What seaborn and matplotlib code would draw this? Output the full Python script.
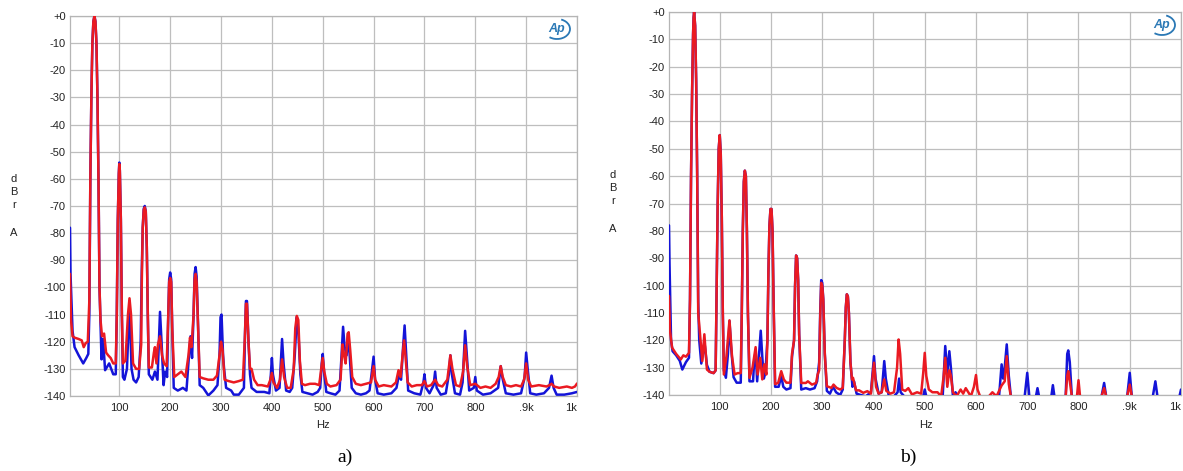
import numpy as np
import pandas as pd
import matplotlib
matplotlib.use("Agg")
import matplotlib.pyplot as plt
from matplotlib.patches import Arc
from matplotlib.ticker import MultipleLocator
import seaborn as sns

# ---------------- data ----------------
a_blue_f = [3, 4, 8, 12, 20, 29, 35, 39, 41, 43, 45, 47, 49, 51, 53, 55, 57, 59, 61, 65, 68, 72, 80, 88, 93, 95, 97, 99, 100, 101, 103, 105, 107, 110, 115, 120, 124, 128, 133, 138, 142, 144, 146, 148, 150, 152, 154, 156, 158, 165, 170, 175, 180, 183, 187, 190, 194, 196, 198, 200, 202, 204, 207, 215, 225, 232, 237, 240, 243, 246, 248, 250, 252, 255, 258, 265, 275, 285, 293, 297, 299, 301, 304, 306, 310, 320, 325, 335, 345, 347, 349, 351, 354, 357, 360, 370, 385, 395, 398, 400, 402, 408, 415, 418, 420, 423, 428, 435, 440, 445, 449, 452, 456, 460, 470, 480, 490, 495, 498, 500, 503, 507, 515, 525, 533, 537, 540, 543, 547, 550, 553, 557, 565, 575, 585, 592, 596, 600, 603, 608, 620, 635, 645, 650, 654, 658, 661, 664, 668, 680, 692, 698, 700, 703, 710, 718, 721, 724, 732, 742, 748, 751, 754, 760, 770, 775, 778, 780, 783, 788, 797, 800, 803, 815, 830, 845, 848, 850, 853, 860, 875, 890, 897, 900, 903, 908, 920, 935, 945, 950, 954, 960, 975, 990, 1000]
a_blue_db = [-78, -95, -116, -122, -125, -128, -126, -124.5, -110, -60, -30, -10, -2, 0, -2, -10, -30, -60, -100, -126.5, -119, -130.5, -128, -132, -132, -110, -75, -58, -54, -57, -75, -110, -133, -134, -130, -105, -130, -134, -135, -133, -120, -95, -78, -71, -70, -72, -85, -110, -132, -134, -131, -134, -109, -120, -136, -131, -133, -112, -97, -94.5, -97, -115, -137, -138, -137, -138, -125, -118, -126, -110, -95, -92.5, -96, -115, -136, -137, -139.8, -138, -136, -125, -111, -110, -125, -130, -137, -138, -139.5, -139.5, -137, -118, -105, -105, -120, -132, -137, -138.5, -138.5, -139, -132, -126, -132, -138, -137, -126, -119, -128, -138, -138.5, -137, -125, -111, -116, -132, -138.5, -139, -139.5, -138.5, -137, -128, -124.5, -132, -138.5, -139, -139.5, -138, -125, -114.5, -122, -125, -117, -125, -137, -139, -139.5, -139, -138, -132, -125.5, -134, -139, -139.5, -139, -137, -132, -134, -122, -114, -124, -138, -139, -139.5, -135, -132, -137, -139, -136, -131, -137, -139.5, -139, -132, -125, -132, -139, -139.5, -135, -124, -116, -124, -138, -137, -133, -138, -139.5, -139, -137, -132, -129, -133, -139, -139.5, -139, -133, -124, -130, -139, -139.5, -139, -137, -132.5, -137, -139.5, -139.5, -139, -138.5]

a_red_f = [3, 5, 8, 12, 20, 26, 30, 34, 38, 41, 43, 45, 47, 49, 51, 53, 55, 57, 59, 61, 63, 66, 70, 74, 78, 83, 88, 93, 95, 97, 99, 100, 101, 103, 105, 107, 112, 117, 120, 123, 127, 133, 139, 143, 144, 146, 148, 150, 152, 154, 156, 158, 164, 168, 170, 173, 176, 180, 184, 188, 193, 196, 198, 200, 202, 204, 208, 215, 222, 230, 236, 239, 242, 246, 248, 250, 252, 255, 258, 265, 275, 285, 292, 297, 300, 303, 307, 315, 325, 335, 343, 347, 349, 351, 354, 357, 360, 365, 372, 380, 392, 397, 400, 403, 410, 416, 420, 424, 430, 437, 443, 446, 449, 452, 455, 459, 465, 475, 485, 493, 497, 500, 503, 508, 515, 527, 535, 539, 542, 545, 549, 551, 554, 558, 565, 575, 585, 595, 600, 603, 610, 620, 635, 644, 649, 653, 657, 660, 663, 667, 675, 685, 695, 700, 705, 713, 721, 727, 735, 745, 751, 755, 762, 770, 776, 780, 784, 790, 800, 810, 820, 830, 840, 846, 850, 854, 860, 870, 880, 890, 896, 900, 904, 910, 925, 940, 946, 950, 955, 965, 980, 990, 996, 1000]
a_red_db = [-95, -112, -118, -118.5, -119, -119.5, -122, -120.5, -120, -105, -60, -30, -10, -2, 0, -2, -10, -30, -60, -100, -112, -118, -117, -124, -125, -126, -128, -128, -110, -75, -58, -54.5, -57, -75, -110, -128, -127, -110, -104, -110, -128, -130, -130, -121, -100, -78, -71.5, -70.5, -72, -85, -110, -129.5, -129.5, -124, -122, -128, -121, -118, -125, -128, -129, -112, -98, -96.5, -98, -115, -133, -132, -131, -133, -125, -118.5, -122, -110, -97, -95, -98, -115, -133, -133.5, -134, -134, -132.5, -125, -120, -123, -134, -134.5, -135, -134.5, -134, -118, -106, -106, -120, -130, -130, -134, -136, -136, -136.5, -134, -131.5, -135, -137, -134, -126.5, -133, -137, -137, -130, -115, -110.5, -112, -127, -135.5, -136, -135.5, -135.5, -136, -130, -126, -131, -135.5, -136.5, -136, -134, -121, -125, -128, -117, -116.5, -123, -133, -135.5, -136, -135.5, -135, -129, -134, -136.5, -136, -136.5, -135, -130.5, -133, -125, -119.5, -126, -135, -136.5, -136, -136, -134.5, -136.5, -136, -134, -136, -136.5, -134, -125, -130, -136, -136.5, -131, -121.3, -129, -136, -135.5, -137, -136.5, -137, -135.5, -133, -129, -133, -136, -136.5, -136, -136.5, -134, -128, -134, -136.5, -136, -136.5, -136, -135.5, -136.5, -137, -136.5, -137, -136.5, -135.4]

b_blue_f = [1, 2, 5, 8, 15, 22, 27, 34, 40, 42, 44, 46, 48, 49, 50, 52, 54, 56, 58, 60, 64, 68, 71, 75, 80, 88, 92, 94, 96, 98, 100, 102, 104, 106, 108, 112, 116, 119, 122, 127, 133, 141, 143, 145, 147, 149, 151, 153, 155, 158, 165, 167, 170, 173, 178, 180, 183, 186, 189, 193, 195, 197, 199, 201, 203, 205, 208, 215, 220, 224, 230, 238, 241, 245, 247, 249, 251, 253, 255, 259, 268, 276, 285, 290, 294, 296, 298, 300, 302, 305, 309, 315, 321, 327, 335, 340, 344, 346, 348, 350, 352, 355, 359, 362, 367, 375, 385, 395, 401, 404, 410, 416, 421, 424, 430, 440, 447, 450, 453, 460, 497, 500, 503, 535, 540, 544, 548, 551, 555, 560, 565, 645, 650, 653, 656, 660, 664, 668, 695, 700, 704, 717, 720, 723, 747, 750, 753, 775, 778, 780, 783, 787, 845, 850, 854, 895, 900, 904, 945, 950, 954, 997, 1000]
b_blue_db = [-78, -92, -120, -124, -125.5, -127.5, -130.7, -128, -126.4, -105, -60, -30, -8, -2, 0, -5, -25, -60, -106, -120, -128.5, -124, -122, -129, -131.5, -132, -131, -100, -70, -50, -45, -52, -75, -110, -131, -133.7, -125, -113, -122, -133.5, -135.5, -135.5, -110, -80, -62, -58, -60, -80, -110, -135, -135, -128, -124, -135, -122, -116.5, -126, -134, -132, -120, -95, -78, -72, -72, -80, -105, -137, -137, -133, -137, -138, -137.5, -126, -120, -100, -89, -90, -98, -118, -138, -137.5, -138, -137.5, -135, -128, -110, -98, -99, -105, -125, -138.5, -139.5, -137, -139, -140, -138, -120, -108, -103.2, -104, -110, -128, -137, -135, -139.5, -140, -140.5, -139, -125.8, -134, -139.5, -139, -127.6, -134, -140.5, -140.5, -139, -134, -139, -140.5, -140.5, -138, -140.5, -140.5, -122.1, -132, -124, -130, -140.5, -139, -140.5, -140.5, -128.8, -134, -130, -121.5, -133, -140.5, -140.5, -131.9, -140.5, -140.5, -137.5, -140.5, -140.5, -136.4, -140.5, -140.5, -125, -123.7, -128, -140.5, -140.5, -135.6, -140.5, -140.5, -131.9, -140.5, -140.5, -135, -140.5, -140.5, -138]

b_red_f = [1, 3, 7, 15, 24, 29, 34, 40, 42, 44, 46, 48, 49, 50, 52, 54, 56, 58, 61, 66, 70, 75, 80, 88, 92, 94, 96, 98, 100, 102, 104, 106, 108, 113, 119, 124, 129, 135, 141, 143, 145, 147, 149, 151, 153, 155, 158, 164, 170, 174, 179, 183, 187, 191, 193, 195, 197, 199, 201, 203, 205, 208, 214, 220, 225, 230, 238, 241, 245, 247, 249, 251, 253, 255, 259, 268, 272, 280, 288, 291, 294, 296, 298, 300, 302, 305, 309, 318, 322, 328, 335, 340, 344, 346, 348, 350, 352, 355, 358, 360, 366, 372, 380, 388, 395, 401, 405, 410, 416, 421, 425, 433, 440, 446, 449, 452, 456, 462, 468, 475, 485, 493, 497, 500, 503, 508, 515, 525, 532, 537, 540, 544, 548, 551, 555, 562, 570, 575, 580, 585, 590, 596, 600, 603, 608, 625, 632, 640, 650, 656, 660, 664, 668, 775, 778, 780, 783, 787, 797, 800, 803, 845, 850, 854, 895, 900, 904, 1000]
b_red_db = [-103.8, -116.6, -122.7, -125, -127, -125.5, -126, -124.6, -105, -60, -30, -8, -2, 0, -5, -25, -60, -110, -116.6, -127.6, -117.8, -130.7, -131.5, -132, -131, -100, -70, -50, -45, -52, -75, -110, -132.5, -126, -112.7, -126, -132.5, -132, -132, -110, -80, -62, -58, -60, -80, -110, -133.7, -130, -122.5, -132.5, -126.4, -134.3, -128.8, -132.5, -120, -95, -78, -72, -72, -80, -105, -136, -135.6, -131.3, -134.3, -135.5, -135.5, -125, -120, -100, -89, -90, -98, -118, -135.6, -135.6, -135, -136.2, -135.6, -132.5, -131, -112, -99, -100, -105, -125, -136.8, -137.4, -136.2, -137.4, -138, -137.4, -120, -108, -103.2, -104, -110, -128, -134.3, -133.7, -138.3, -138.3, -139.2, -138.6, -139.5, -128.2, -137, -139.5, -139, -134.3, -138.5, -139.5, -139, -130, -119.7, -125, -138, -138.5, -137.5, -139.8, -139, -139.5, -132, -124.6, -133, -138, -139, -139, -140.5, -133, -126.4, -137, -131, -133, -139, -140.5, -138, -139.5, -137.5, -139, -140.5, -137, -132.7, -138, -140.5, -140.5, -139, -140.5, -136.5, -135, -125.8, -136, -140.5, -140.5, -133, -131.3, -135, -140.5, -140.5, -134.6, -140.5, -140.5, -137.5, -140.5, -140.5, -136.2, -140.5, -140.5]

y_ticks = list(range(0, -141, -10))
y_labels = ["+0"] + [str(v) for v in y_ticks[1:]]
x_ticks = list(range(100, 1001, 100))
x_labels = ["100", "200", "300", "400", "500", "600", "700", "800", ".9k", "1k"]

BLUE = "#1414d8"
RED = "#ea1a22"
GRID = "#bebebe"

sns.set_style("white")
plt.rcParams["font.family"] = ["Liberation Sans", "DejaVu Sans"]

W, H = 1183, 471
fig = plt.figure(figsize=(W / 100, H / 100), dpi=100)

def px_axes(x0, y0, x1, y1):
    return fig.add_axes([x0 / W, 1 - y1 / H, (x1 - x0) / W, (y1 - y0) / H])

panels = [
    dict(box=(70, 16, 577, 396), xmin=3, bf=a_blue_f, bd=a_blue_db, rf=a_red_f, rd=a_red_db,
         dbr_x=14, dbr_y=179, hz=(323, 425), tag="a)", tag_xy=(345, 457), logo=(557, 29)),
    dict(box=(669, 12, 1181, 395), xmin=1, bf=b_blue_f, bd=b_blue_db, rf=b_red_f, rd=b_red_db,
         dbr_x=613, dbr_y=175, hz=(926, 425), tag="b)", tag_xy=(908, 457), logo=(1162, 25)),
]

for p in panels:
    ax = px_axes(*p["box"])
    df_b = pd.DataFrame({"Hz": p["bf"], "dBr": p["bd"]})
    df_r = pd.DataFrame({"Hz": p["rf"], "dBr": p["rd"]})
    sns.lineplot(data=df_b, x="Hz", y="dBr", ax=ax, color=BLUE, lw=1.8,
                 sort=False, estimator=None, zorder=3)
    sns.lineplot(data=df_r, x="Hz", y="dBr", ax=ax, color=RED, lw=1.8,
                 sort=False, estimator=None, zorder=4)
    ax.set_xlim(p["xmin"], 1000)
    ax.set_ylim(-140, 0)
    ax.set_xticks(x_ticks)
    ax.set_xticklabels(x_labels)
    ax.set_yticks(y_ticks)
    ax.set_yticklabels(y_labels)
    ax.xaxis.set_minor_locator(MultipleLocator(10))
    ax.yaxis.set_minor_locator(MultipleLocator(1))
    ax.tick_params(axis="both", which="major", length=0, labelsize=8, colors="#222222")
    ax.tick_params(axis="x", which="major", pad=5)
    ax.tick_params(axis="y", which="major", pad=3)
    ax.tick_params(axis="x", which="minor", direction="in", length=9.5, width=0.6, color="#c8c8c8")
    ax.tick_params(axis="y", which="minor", direction="in", length=3, width=0.5, color="#c8c8c8")
    ax.grid(True, which="major", color=GRID, lw=0.9)
    for s in ax.spines.values():
        s.set_color("#b5b5b5")
        s.set_linewidth(0.9)
    ax.set_xlabel("")
    ax.set_ylabel("")
    last = ax.get_xticklabels()[-1]
    last.set_horizontalalignment("right")

    # stacked unit label
    for i, ch in enumerate(["d", "B", "r"]):
        fig.text(p["dbr_x"] / W, 1 - (p["dbr_y"] + 13 * i) / H, ch, fontsize=8,
                 ha="center", va="center", color="#222222")
    fig.text(p["dbr_x"] / W, 1 - (p["dbr_y"] + 54) / H, "A", fontsize=8,
             ha="center", va="center", color="#222222")
    fig.text(p["hz"][0] / W, 1 - p["hz"][1] / H, "Hz", fontsize=8,
             ha="center", va="center", color="#222222")
    fig.text(p["tag_xy"][0] / W, 1 - p["tag_xy"][1] / H, p["tag"], fontsize=14,
             family="Liberation Serif", ha="center", va="center", color="black")

    # Ap logo
    lx, ly = p["logo"]
    fig.text(lx / W, 1 - ly / H, "Ap", fontsize=9, fontstyle="italic", fontweight="bold",
             color="#2a78b5", ha="center", va="center")
    arc = Arc((lx / W, 1 - ly / H), 26 / W, 20 / H, theta1=-110, theta2=80,
              transform=fig.transFigure, color="#2a78b5", lw=1.3)
    fig.add_artist(arc)

fig.savefig("out.png", dpi=100, facecolor="white")
